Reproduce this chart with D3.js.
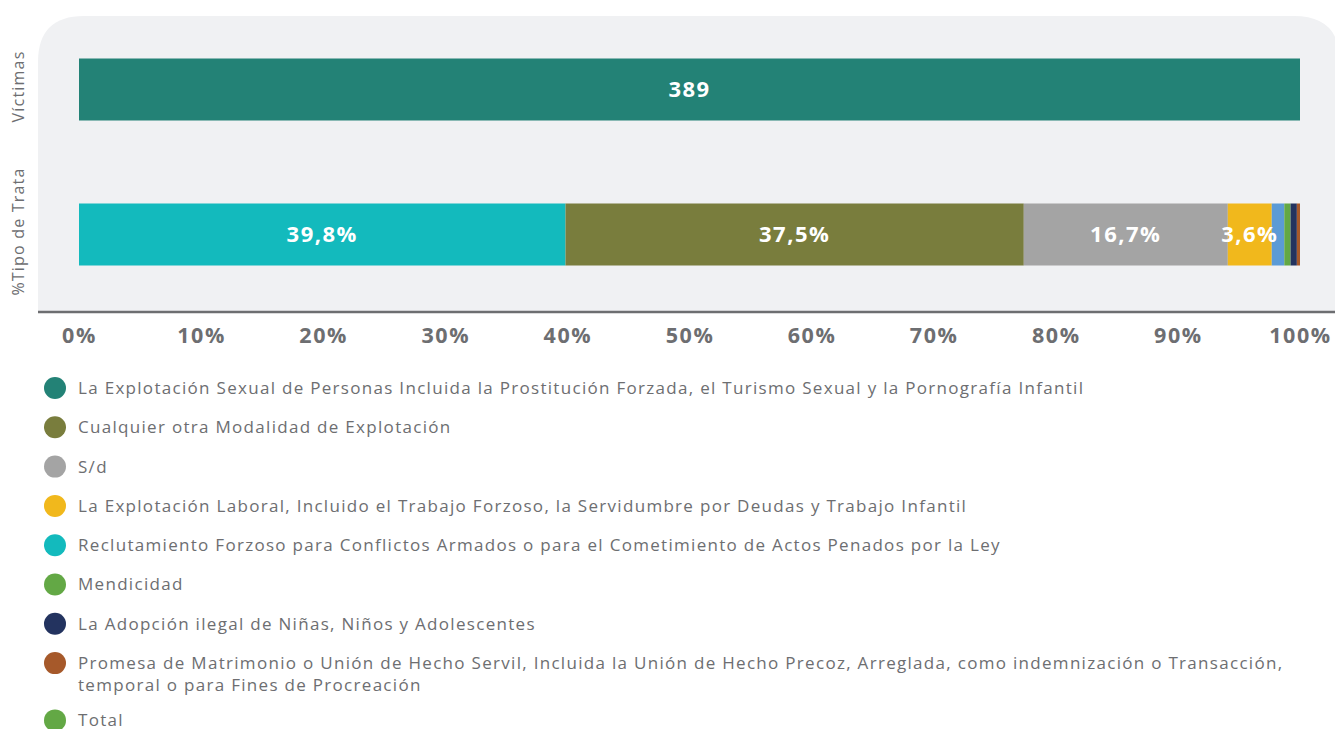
<!DOCTYPE html>
<html lang="es">
<head>
<meta charset="utf-8">
<title>Víctimas por tipo de trata</title>
<script src="https://cdn.jsdelivr.net/npm/d3@7"></script>
<style>
  html, body { margin: 0; padding: 0; background: #ffffff; }
  svg { display: block; font-family: "Open Sans", "Noto Sans", sans-serif; }
</style>
</head>
<body>
<svg id="chart" width="1335" height="729"></svg>
<script>
// Rows of the chart
const rowLabels = ["Víctimas", "%Tipo de Trata"];

// Total number of victims (top bar)
const totalVictimas = 389;

// Victims by type of trafficking, in the order they are stacked
const tipoCounts = [155, 146, 65, 14, 4, 2, 2, 1];
const tipoColors = ["#13babd", "#797d3d", "#a4a4a4", "#f1b81c", "#5b9bd6", "#63a845", "#23335f", "#a6592a"];

// Axis ticks (percent)
const tickValues = [0, 10, 20, 30, 40, 50, 60, 70, 80, 90, 100];

// Legend entries
const legendLabels = [
  "La Explotación Sexual de Personas Incluida la Prostitución Forzada, el Turismo Sexual y la Pornografía Infantil",
  "Cualquier otra Modalidad de Explotación",
  "S/d",
  "La Explotación Laboral, Incluido el Trabajo Forzoso, la Servidumbre por Deudas y Trabajo Infantil",
  "Reclutamiento Forzoso para Conflictos Armados o para el Cometimiento de Actos Penados por la Ley",
  "Mendicidad",
  "La Adopción ilegal de Niñas, Niños y Adolescentes",
  "Promesa de Matrimonio o Unión de Hecho Servil, Incluida la Unión de Hecho Precoz, Arreglada, como indemnización o Transacción,\ntemporal o para Fines de Procreación",
  "Total"
];
const legendColors = ["#238276", "#797d3d", "#a4a4a4", "#f1b81c", "#13babd", "#63a845", "#23335f", "#a6592a", "#63a845"];

const totalColor = "#238276";
const textGray = "#6d6e71";

const svg = d3.select("#chart");

// Plot panel geometry
const panel = { left: 38, top: 16, right: 1340, bottom: 312, r: 46 };

const x = d3.scaleLinear().domain([0, 100]).range([79, 1300]);
const y = d3.scaleBand().domain(rowLabels).range([14, 310]).paddingInner(0.5724).paddingOuter(0.3069);

// Panel background with rounded top corners
const p = panel;
svg.append("path")
  .attr("d", `M${p.left},${p.bottom} L${p.left},${p.top + p.r} Q${p.left},${p.top} ${p.left + p.r},${p.top}
              L${p.right - p.r},${p.top} Q${p.right},${p.top} ${p.right},${p.top + p.r} L${p.right},${p.bottom} Z`)
  .attr("fill", "#f0f1f3");

// Top bar: total victims
svg.append("rect")
  .attr("x", x(0))
  .attr("y", y("Víctimas"))
  .attr("width", x(100) - x(0))
  .attr("height", y.bandwidth())
  .attr("fill", totalColor);

svg.append("text")
  .attr("x", x(50))
  .attr("y", y("Víctimas") + y.bandwidth() / 2)
  .attr("dy", "0.36em")
  .attr("text-anchor", "middle")
  .attr("fill", "#ffffff")
  .attr("font-weight", 700)
  .attr("font-size", 22)
  .attr("letter-spacing", 1.5)
  .text(totalVictimas);

// Stacked bar: share of each type
const totalTipo = d3.sum(tipoCounts);
let acc = 0;
const segments = tipoCounts.map((c, i) => {
  const pct = c / totalTipo * 100;
  const s = { start: acc, end: acc + pct, pct, color: tipoColors[i] };
  acc += pct;
  return s;
});

const fmt = v => d3.format(".1f")(v).replace(".", ",") + "%";

svg.append("g").selectAll("rect")
  .data(segments)
  .join("rect")
  .attr("x", d => x(d.start))
  .attr("y", y("%Tipo de Trata"))
  .attr("width", d => x(d.end) - x(d.start))
  .attr("height", y.bandwidth())
  .attr("fill", d => d.color);

svg.append("g").selectAll("text")
  .data(segments.filter(d => d.pct >= 3))
  .join("text")
  .attr("x", d => x((d.start + d.end) / 2))
  .attr("y", y("%Tipo de Trata") + y.bandwidth() / 2)
  .attr("dy", "0.36em")
  .attr("text-anchor", "middle")
  .attr("fill", "#ffffff")
  .attr("font-weight", 700)
  .attr("font-size", 22)
  .attr("letter-spacing", 1.5)
  .text(d => fmt(d.pct));

// Row labels (rotated)
svg.append("g").selectAll("text")
  .data(rowLabels)
  .join("text")
  .attr("transform", d => `translate(24,${y(d) + y.bandwidth() / 2 - 3}) rotate(-90)`)
  .attr("text-anchor", "middle")
  .attr("fill", textGray)
  .attr("font-size", 16)
  .attr("letter-spacing", 1.2)
  .text(d => d);

// X axis
const axis = svg.append("g")
  .attr("transform", `translate(0,${panel.bottom})`)
  .call(d3.axisBottom(x).tickValues(tickValues).tickSize(0).tickPadding(16).tickFormat(d => d + "%"));
axis.select(".domain").remove();
axis.selectAll("text")
  .attr("fill", textGray)
  .attr("font-family", "'Open Sans', sans-serif")
  .attr("font-weight", 700)
  .attr("font-size", 21.5)
  .attr("letter-spacing", 1.6);

svg.append("line")
  .attr("x1", panel.left).attr("x2", 1335)
  .attr("y1", panel.bottom).attr("y2", panel.bottom)
  .attr("stroke", textGray)
  .attr("stroke-width", 2.5);

// Legend
const legend = svg.append("g");
let ly = 388;
legendLabels.forEach((label, i) => {
  const lines = label.split("\n");
  const g = legend.append("g").attr("transform", `translate(0,${ly})`);
  g.append("circle").attr("cx", 55).attr("cy", 0).attr("r", 11).attr("fill", legendColors[i]);
  const t = g.append("text")
    .attr("x", 78)
    .attr("y", 0)
    .attr("fill", textGray)
    .attr("font-size", 17)
    .attr("letter-spacing", 1.3);
  lines.forEach((ln, j) => {
    t.append("tspan").attr("x", 78).attr("dy", j === 0 ? "0.35em" : 22).text(ln);
  });
  ly += 39.3 + (lines.length - 1) * 18;
});
</script>
</body>
</html>
